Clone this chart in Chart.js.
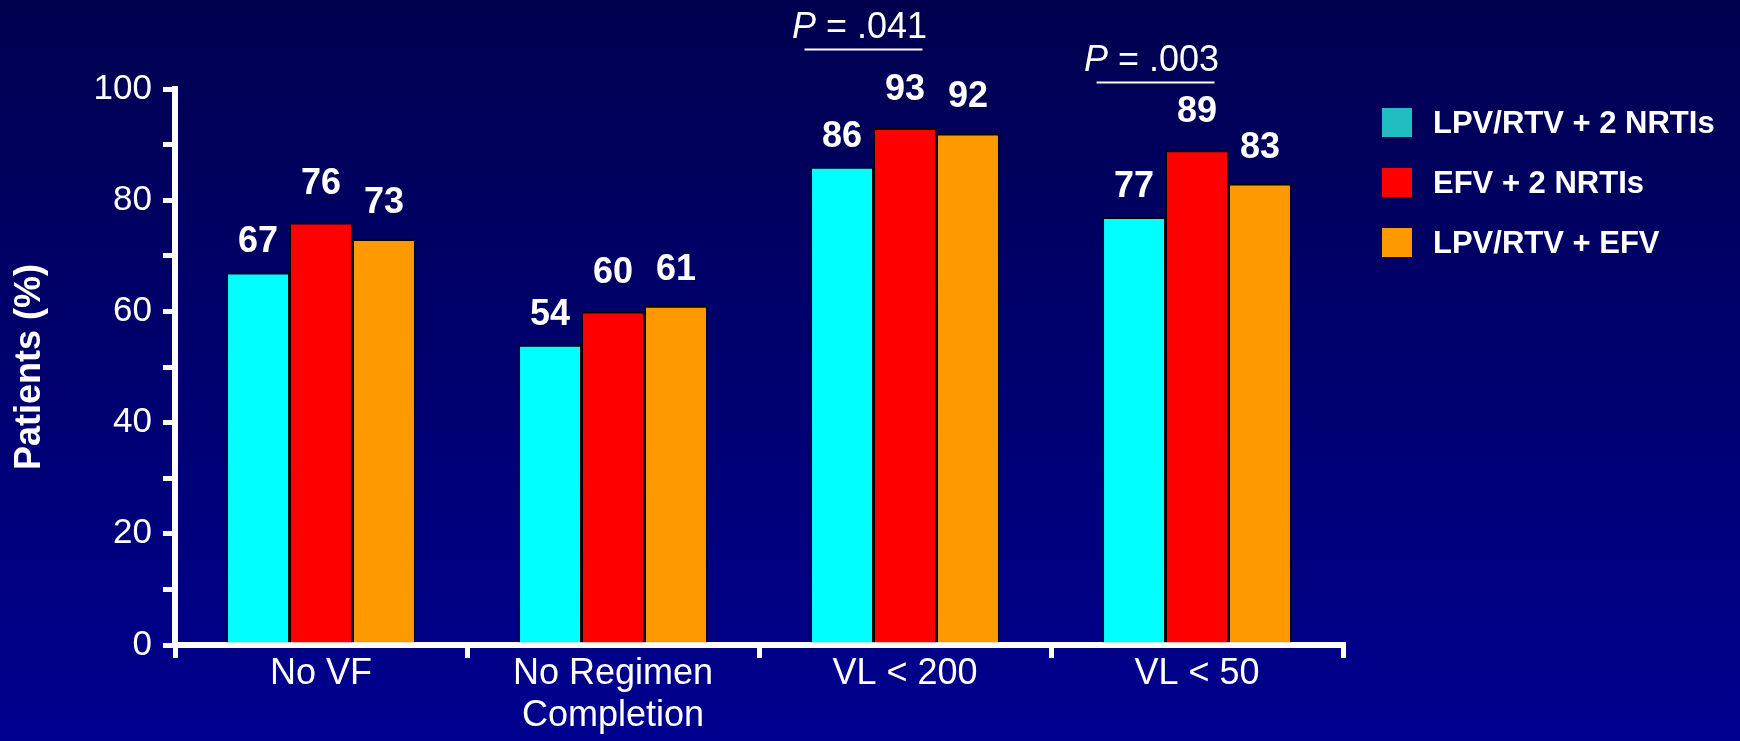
<!DOCTYPE html>
<html>
<head>
<meta charset="utf-8">
<title>Patients by outcome</title>
<script src="https://cdn.jsdelivr.net/npm/chart.js@4.4.1/dist/chart.umd.min.js"></script>
<style>
  html, body { margin: 0; padding: 0; }
  body { background: linear-gradient(to bottom, #00004f 0%, #00008f 100%); width: 1740px; height: 741px; overflow: hidden; }
  .container { position: relative; width: 1740px; height: 741px; }
</style>
</head>
<body>
<div class="container"><canvas id="barChart"></canvas></div>
<script>
// Outcome categories and the three treatment arms
const categories = ['No VF', ['No Regimen', 'Completion'], 'VL < 200', 'VL < 50'];
const seriesNames = ['LPV/RTV + 2 NRTIs', 'EFV + 2 NRTIs', 'LPV/RTV + EFV'];
const lpvNrti = [67, 54, 86, 77];
const efvNrti = [76, 60, 93, 89];
const lpvEfv = [73, 61, 92, 83];
const yTicks = [0, 20, 40, 60, 80, 100];

// P values shown over the first two bars of a group
const pGroups = [2, 3];
const pValues = ['.041', '.003'];

const barColors = ['#00ffff', '#ff0000', '#ff9900'];
const legendColors = ['#20bebe', '#ff0000', '#ff9900'];
const FONT = "'Liberation Sans', Arial, Helvetica, sans-serif";

(function () {
  const ctx = document.getElementById('barChart').getContext('2d');

  // value printed above each bar
  const valueLabels = {
    id: 'valueLabels',
    afterDatasetsDraw(chart, args, opts) {
      const c = chart.ctx;
      c.save();
      c.fillStyle = '#ffffff';
      c.font = 'bold 36px ' + FONT;
      c.textAlign = 'center';
      c.textBaseline = 'alphabetic';
      chart.data.datasets.forEach((ds, i) => {
        chart.getDatasetMeta(i).data.forEach((bar, j) => {
          c.fillText(String(ds.data[j]), bar.x, bar.y - opts.gaps[i]);
        });
      });
      c.restore();
    }
  };

  // "P = ..." with a line spanning the first two bars of the group
  const pBrackets = {
    id: 'pBrackets',
    afterDatasetsDraw(chart, args, opts) {
      const c = chart.ctx;
      const y = chart.scales.y;
      const a = chart.getDatasetMeta(0).data;
      const b = chart.getDatasetMeta(1).data;
      c.save();
      c.fillStyle = '#ffffff';
      c.strokeStyle = '#ffffff';
      c.lineWidth = 2;
      pGroups.forEach((g, k) => {
        const left = a[g].x - a[g].width / 2 - 6;
        const right = b[g].x + b[g].width / 2 - 14;
        const ly = Math.round(y.getPixelForValue(opts.levels[k])) + 0.5;
        c.beginPath();
        c.moveTo(left, ly);
        c.lineTo(right, ly);
        c.stroke();

        const italic = 'italic 36px ' + FONT;
        const plain = '36px ' + FONT;
        c.font = italic;
        const wP = c.measureText('P').width;
        c.font = plain;
        const rest = ' = ' + pValues[k];
        const wR = c.measureText(rest).width;
        const x = (left + right) / 2 - 4 - (wP + wR) / 2;
        c.textAlign = 'left';
        c.textBaseline = 'alphabetic';
        c.font = italic;
        c.fillText('P', x, ly - 12);
        c.font = plain;
        c.fillText(rest, x + wP, ly - 12);
      });
      c.restore();
    }
  };

  // legend box to the right of the plot
  const sideLegend = {
    id: 'sideLegend',
    afterDraw(chart, args, opts) {
      const c = chart.ctx;
      const x = chart.chartArea.right + opts.offsetX;
      c.save();
      c.font = 'bold 31px ' + FONT;
      c.textAlign = 'left';
      c.textBaseline = 'middle';
      seriesNames.forEach((name, i) => {
        const top = opts.top + i * opts.rowGap;
        c.fillStyle = legendColors[i];
        c.fillRect(x, top, 30, 29);
        c.fillStyle = '#ffffff';
        c.fillText(name, x + 51, top + 16);
      });
      c.restore();
    }
  };

  new Chart(ctx, {
    type: 'bar',
    data: {
      labels: categories,
      datasets: [lpvNrti, efvNrti, lpvEfv].map((vals, i) => ({
        label: seriesNames[i],
        data: vals,
        backgroundColor: barColors[i],
        borderColor: '#000000',
        borderWidth: { top: 2, left: 1.5, right: 1.5, bottom: 0 },
        borderSkipped: false,
        categoryPercentage: 0.647,
        barPercentage: 1.0
      }))
    },
    options: {
      responsive: true,
      maintainAspectRatio: false,
      animation: false,
      layout: { padding: { top: 89, right: 397, bottom: 0, left: 0 } },
      plugins: {
        legend: { display: false },
        tooltip: { enabled: false },
        valueLabels: { gaps: [20, 28, 26] },
        pBrackets: { levels: [107.2, 101.3] },
        sideLegend: { offsetX: 39, top: 108, rowGap: 60 }
      },
      scales: {
        x: {
          afterFit(scale) { scale.height = 96; },
          border: { display: true, color: '#ffffff', width: 6 },
          grid: {
            offset: true,
            drawOnChartArea: false,
            drawTicks: true,
            tickLength: 13,
            lineWidth: 5,
            color: '#ffffff'
          },
          ticks: {
            color: '#ffffff',
            font: { family: FONT, size: 36, lineHeight: 1.17 },
            padding: -5,
            maxRotation: 0,
            autoSkip: false
          }
        },
        y: {
          min: 0,
          max: 100,
          afterFit(scale) { scale.width = 175; },
          border: { display: true, color: '#ffffff', width: 6 },
          grid: {
            drawOnChartArea: false,
            drawTicks: true,
            tickLength: 12,
            lineWidth: 5,
            color: '#ffffff'
          },
          ticks: {
            stepSize: 10,
            autoSkip: false,
            color: '#ffffff',
            padding: 11,
            font: { family: FONT, size: 35 },
            callback: v => (yTicks.includes(v) ? String(v) : '')
          },
          title: {
            display: true,
            text: 'Patients (%)',
            color: '#ffffff',
            font: { family: FONT, size: 36, weight: 'bold' },
            padding: { top: 8, bottom: 0 }
          }
        }
      }
    },
    plugins: [valueLabels, pBrackets, sideLegend]
  });
})();
</script>
</body>
</html>
